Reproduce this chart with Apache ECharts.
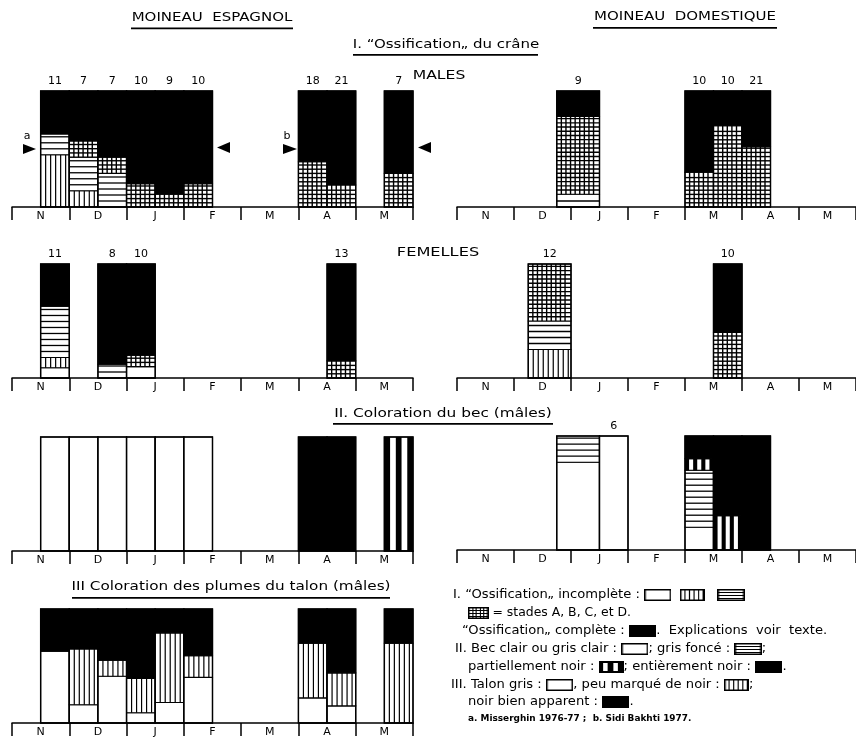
<!DOCTYPE html>
<html><head><meta charset="utf-8">
<script src="https://cdn.jsdelivr.net/npm/echarts@6/dist/echarts.min.js"></script>
<style>html,body{margin:0;padding:0;background:#fff}#c{width:856px;height:743px}</style>
</head><body><div id="c"></div><script>
// ---------- DATA ----------
const months = ['N', 'D', 'J', 'F', 'M', 'A', 'M'];
// stage order from bottom: W (blanc), V (traits verticaux), H (traits horizontaux), G (quadrillé), P (partiellement noir), K (noir)
// positions in months counted from 1 November
// I. Ossification - Moineau espagnol - mâles
const espMStart = [0.5, 1, 1.5, 2, 2.5, 3, 5, 5.5, 6.5];
const espMEnd   = [1, 1.5, 2, 2.5, 3, 3.5, 5.5, 6, 7];
const espMN     = [11, 7, 7, 10, 9, 10, 18, 21, 7];
const espMV     = [45, 14, 0, 0, 0, 0, 0, 0, 0];
const espMH     = [18, 29, 29, 0, 0, 0, 0, 0, 0];
const espMG     = [0, 14, 14, 20, 11, 20, 39, 19, 29];
const espMK     = [37, 43, 57, 80, 89, 80, 61, 81, 71];
// I. Ossification - Moineau domestique - mâles
const domMStart = [1.75, 4, 4.5, 5];
const domMEnd   = [2.5, 4.5, 5, 5.5];
const domMN     = [9, 10, 10, 21];
const domMH     = [11, 0, 0, 0];
const domMG     = [67, 30, 70, 52];
const domMK     = [22, 70, 30, 48];
// I. Ossification - Moineau espagnol - femelles
const espFStart = [0.5, 1.5, 2, 5.5];
const espFEnd   = [1, 2, 2.5, 6];
const espFN     = [11, 8, 10, 13];
const espFW     = [9, 0, 10, 0];
const espFV     = [9, 0, 0, 0];
const espFH     = [45, 12, 0, 0];
const espFG     = [0, 0, 10, 15];
const espFK     = [37, 88, 80, 85];
// I. Ossification - Moineau domestique - femelles
const domFStart = [1.25, 4.5];
const domFEnd   = [2, 5];
const domFN     = [12, 10];
const domFV     = [25, 0];
const domFH     = [25, 0];
const domFG     = [50, 40];
const domFK     = [0, 60];
// II. Coloration du bec - Moineau espagnol
const espBStart = [0.5, 1, 1.5, 2, 2.5, 3, 5, 5.5, 6.5];
const espBEnd   = [1, 1.5, 2, 2.5, 3, 3.5, 5.5, 6, 7];
const espBW     = [100, 100, 100, 100, 100, 100, 0, 0, 0];
const espBP     = [0, 0, 0, 0, 0, 0, 0, 0, 100];
const espBK     = [0, 0, 0, 0, 0, 0, 100, 100, 0];
// II. Coloration du bec - Moineau domestique
const domBStart = [1.75, 2.5, 4, 4.5, 5];
const domBEnd   = [2.5, 3, 4.5, 5, 5.5];
const domBN     = [null, 6, null, null, null];
const domBW     = [77, 100, 20, 0, 0];
const domBH     = [23, 0, 50, 0, 0];
const domBP     = [0, 0, 10, 30, 0];
const domBK     = [0, 0, 20, 70, 100];
// III. Coloration des plumes du talon - Moineau espagnol
const espTStart = [0.5, 1, 1.5, 2, 2.5, 3, 5, 5.5, 6.5];
const espTEnd   = [1, 1.5, 2, 2.5, 3, 3.5, 5.5, 6, 7];
const espTW     = [63, 16, 41, 9, 18, 40, 22, 15, 0];
const espTV     = [0, 49, 14, 30, 61, 19, 48, 29, 70];
const espTK     = [37, 35, 45, 61, 21, 41, 30, 56, 30];

// ---------- LAYOUT ----------
const FONT = '"DejaVu Sans", sans-serif';
const STAGES = ['W', 'V', 'H', 'G', 'P', 'K'];
const grids = [
  {left: 12,  top: 91,  width: 401, height: 116},
  {left: 457, top: 91,  width: 399, height: 116},
  {left: 12,  top: 264, width: 401, height: 114},
  {left: 457, top: 264, width: 399, height: 114},
  {left: 12,  top: 437, width: 401, height: 114},
  {left: 457, top: 436, width: 399, height: 114},
  {left: 12,  top: 609, width: 401, height: 114}
];
const zeros = n => new Array(n).fill(0);
function panel(g, start, end, n, st, stripes) {
  const len = start.length;
  const cols = STAGES.map(k => st[k] || zeros(len));
  return {grid: g, start, end, n: n || new Array(len).fill(null), cols, stripes: stripes || 3};
}
const panels = [
  panel(0, espMStart, espMEnd, espMN, {V: espMV, H: espMH, G: espMG, K: espMK}),
  panel(1, domMStart, domMEnd, domMN, {H: domMH, G: domMG, K: domMK}),
  panel(2, espFStart, espFEnd, espFN, {W: espFW, V: espFV, H: espFH, G: espFG, K: espFK}),
  panel(3, domFStart, domFEnd, domFN, {V: domFV, H: domFH, G: domFG, K: domFK}),
  panel(4, espBStart, espBEnd, null, {W: espBW, P: espBP, K: espBK}, 2),
  panel(5, domBStart, domBEnd, domBN, {W: domBW, H: domBH, P: domBP, K: domBK}, 3),
  panel(6, espTStart, espTEnd, null, {W: espTW, V: espTV, K: espTK})
];

// ---------- PATTERN DRAWING ----------
function bar(x, y, w, h) { return {type: 'rect', shape: {x, y, width: w, height: h}, style: {fill: '#000'}}; }
function segChildren(type, x, y, w, h, stripes) {
  const ch = [];
  const dark = type === 'K' || type === 'P';
  ch.push({type: 'rect', shape: {x, y, width: w, height: h}, style: {fill: dark ? '#000' : '#fff'}});
  if (type === 'V' || type === 'G') {
    const p = type === 'V' ? 5 : 4.6, lw = type === 'V' ? 1.2 : 1.4;
    for (let px = x + p; px < x + w - 1.5; px += p) ch.push(bar(px - lw / 2, y, lw, h));
  }
  if (type === 'H' || type === 'G') {
    const p = type === 'H' ? 6 : 4.2, lw = type === 'H' ? 1.3 : 1.4;
    for (let py = y + h - p; py > y + 1.5; py -= p) ch.push(bar(x, py - lw / 2, w, lw));
  }
  if (type === 'P') {
    const parts = stripes * 2 + 1, pw = w / parts;
    for (let i = 1; i < parts; i += 2) ch.push({type: 'rect', shape: {x: x + i * pw, y: y, width: pw, height: h}, style: {fill: '#fff'}});
  }
  ch.push({type: 'rect', shape: {x, y, width: w, height: h}, style: {fill: null, stroke: '#000', lineWidth: 1.1}});
  return ch;
}
function drawSwatch(type, w, h, stripes) {
  const c = document.createElement('canvas');
  c.width = w; c.height = h;
  const ctx = c.getContext('2d');
  const dark = type === 'K' || type === 'P';
  ctx.fillStyle = dark ? '#000' : '#fff';
  ctx.fillRect(0, 0, w, h);
  ctx.fillStyle = '#000';
  if (type === 'V' || type === 'G') { const p = type === 'V' ? 4 : 3.5; for (let px = p; px < w - 1; px += p) ctx.fillRect(Math.round(px), 0, 1, h); }
  if (type === 'H' || type === 'G') { const p = 3; for (let py = p; py < h - 1; py += p) ctx.fillRect(0, Math.round(py), w, 1); }
  if (type === 'P') { ctx.fillStyle = '#fff'; const parts = stripes * 2 + 1, pw = w / parts; for (let i = 1; i < parts; i += 2) ctx.fillRect(Math.round(i * pw), 2, Math.round(pw), h - 4); }
  ctx.strokeStyle = '#000'; ctx.lineWidth = 1.5; ctx.strokeRect(0.75, 0.75, w - 1.5, h - 1.5);
  return c;
}

// ---------- OPTION ----------
const xAxis = [], yAxis = [], series = [];
grids.forEach((g, i) => {
  xAxis.push({
    type: 'category', gridIndex: i, data: months, position: 'bottom', boundaryGap: true,
    axisLine: {lineStyle: {color: '#000', width: 1.5}},
    axisTick: {show: true, length: 13, lineStyle: {color: '#000', width: 1.5}},
    axisLabel: {color: '#000', fontSize: 11, fontFamily: FONT, margin: 4},
    splitLine: {show: false}, z: 5
  });
  xAxis.push({type: 'value', gridIndex: i, min: 0, max: 7, show: false});
  yAxis.push({type: 'value', gridIndex: i, min: 0, max: 100, show: false});
});
panels.forEach(p => {
  const data = p.start.map((s, j) => [s, p.end[j]].concat(p.cols.map(c => c[j])));
  series.push({
    type: 'custom', xAxisIndex: p.grid * 2 + 1, yAxisIndex: p.grid, clip: false,
    encode: {x: [0, 1], y: [2, 3, 4, 5, 6, 7]},
    data,
    renderItem: function (params, api) {
      const s = api.value(0), e = api.value(1);
      const x0 = api.coord([s, 0])[0], x1 = api.coord([e, 0])[0];
      const children = [];
      let cum = 0;
      for (let k = 0; k < STAGES.length; k++) {
        const v = api.value(2 + k);
        if (!v) continue;
        const yb = api.coord([s, cum])[1], yt = api.coord([s, cum + v])[1];
        children.push(...segChildren(STAGES[k], x0, yt, x1 - x0, yb - yt, p.stripes));
        cum += v;
      }
      const yTop = api.coord([s, cum])[1], yBot = api.coord([s, 0])[1];
      children.push({type: 'rect', shape: {x: x0, y: yTop, width: x1 - x0, height: yBot - yTop}, style: {fill: null, stroke: '#000', lineWidth: 1.4}});
      const lab = p.n[params.dataIndex];
      if (lab !== null && lab !== undefined) {
        children.push({type: 'text', x: (x0 + x1) / 2, y: yTop - 4, style: {text: String(lab), fill: '#000', font: '11px ' + FONT, textAlign: 'center', textVerticalAlign: 'bottom'}});
      }
      return {type: 'group', children};
    }
  });
});

// legend swatches
const SH = 12;
const rich = {
  W: {width: 24, height: SH, backgroundColor: {image: drawSwatch('W', 24, SH)}},
  V: {width: 22, height: SH, backgroundColor: {image: drawSwatch('V', 22, SH)}},
  H: {width: 24, height: SH, backgroundColor: {image: drawSwatch('H', 24, SH)}},
  G: {width: 19, height: SH, backgroundColor: {image: drawSwatch('G', 19, SH)}},
  K: {width: 24, height: SH, backgroundColor: {image: drawSwatch('K', 24, SH)}},
  P: {width: 22, height: SH, backgroundColor: {image: drawSwatch('P', 22, SH, 2)}},
  t: {fontSize: 11.5, fontFamily: FONT, color: '#000'}
};
function txt(x, y, text, size, align, sx, weight) {
  return {type: 'text', x, y, z: 10, scaleX: sx || 1, style: {text, fill: '#000', font: (weight ? weight + ' ' : '') + (size || 12) + 'px ' + FONT, textAlign: align || 'left', textVerticalAlign: 'middle', rich}};
}
function uline(x1, x2, y, h) { return {type: 'rect', z: 10, shape: {x: x1, y, width: x2 - x1, height: h || 1.8}, style: {fill: '#000'}}; }
function tri(pts) { return {type: 'polygon', z: 10, shape: {points: pts}, style: {fill: '#000'}}; }

const LS = 11.5, LX = 1.14;
const graphic = [
  txt(212, 18, 'MOINEAU  ESPAGNOL', 12.5, 'center', 1.2), uline(131, 293, 27.5),
  txt(685, 17, 'MOINEAU  DOMESTIQUE', 12.5, 'center', 1.2), uline(593, 777, 27),
  txt(446, 45, 'I. “Ossification„ du crâne', 12, 'center', 1.25), uline(353, 538, 54),
  txt(439, 76, 'MALES', 12, 'center', 1.3),
  txt(438, 253, 'FEMELLES', 12, 'center', 1.35),
  txt(443, 414, 'II. Coloration du bec (mâles)', 12, 'center', 1.28), uline(333, 553, 423),
  txt(231, 587, 'III Coloration des plumes du talon (mâles)', 12, 'center', 1.27), uline(72, 390, 597),
  txt(27, 136, 'a', 11, 'center'), tri([[23, 144], [23, 154], [36, 149]]),
  tri([[230, 142], [230, 153], [217, 147.5]]),
  txt(287, 136, 'b', 11, 'center'), tri([[283, 144], [283, 154], [297, 149]]),
  tri([[431, 142], [431, 153], [418, 147.5]]),
  txt(453, 595, 'I. “Ossification„ incomplète : {W|\u00a0}  {V|\u00a0}   {H|\u00a0}', LS, 'left', LX),
  txt(468, 613, '{G|\u00a0}{t| = stades A, B, C, et D.}', LS, 'left', 1.08),
  txt(462, 631, '“Ossification„ complète : {K|\u00a0}.  Explications  voir  texte.', LS, 'left', LX),
  txt(455, 649, 'II. Bec clair ou gris clair : {W|\u00a0}; gris foncé : {H|\u00a0};', LS, 'left', LX),
  txt(468, 667, 'partiellement noir : {P|\u00a0}; entièrement noir : {K|\u00a0}.', LS, 'left', LX),
  txt(451, 685, 'III. Talon gris : {W|\u00a0}, peu marqué de noir : {V|\u00a0};', LS, 'left', LX),
  txt(468, 702, 'noir bien apparent : {K|\u00a0}.', LS, 'left', LX),
  txt(468, 719, 'a. Misserghin 1976-77 ;  b. Sidi Bakhti 1977.', 8.5, 'left', 1.05, 'bold')
];

const chart = echarts.init(document.getElementById('c'));
chart.setOption({
  animation: false,
  backgroundColor: '#fff',
  grid: grids.map(g => Object.assign({containLabel: false}, g)),
  xAxis, yAxis, series, graphic
});
</script></body></html>
